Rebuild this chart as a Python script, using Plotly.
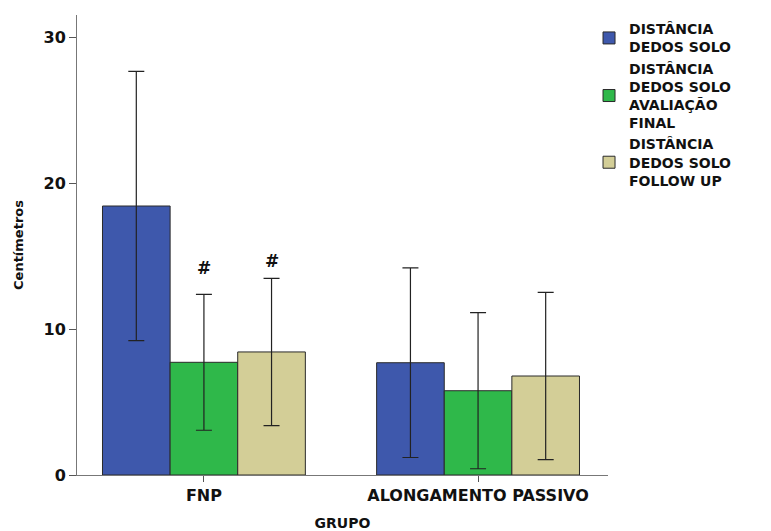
import plotly.graph_objects as go

categories = ["FNP", "ALONGAMENTO PASSIVO"]
series_names = [
    "DISTÂNCIA<br>DEDOS SOLO",
    "DISTÂNCIA<br>DEDOS SOLO<br>AVALIAÇÃO<br>FINAL",
    "DISTÂNCIA<br>DEDOS SOLO<br>FOLLOW UP",
]
means_inicial = [18.45, 7.70]
err_inicial = [9.23, 6.50]
means_final = [7.73, 5.78]
err_final = [4.66, 5.35]
means_follow = [8.44, 6.79]
err_follow = [5.05, 5.74]
colors = ["#3e58ac", "#2fb84a", "#d3ce97"]

# significance markers: (category index, series index, y)
sig_marks = [(0, 1, 14.2), (0, 2, 14.7)]

bargap = 0.26
font_family = "DejaVu Sans"

fig = go.Figure()
for name, m, e, c in zip(series_names,
                         [means_inicial, means_final, means_follow],
                         [err_inicial, err_final, err_follow], colors):
    fig.add_trace(go.Bar(
        x=categories, y=m, name=name,
        marker=dict(color=c, line=dict(color="#2a2a2a", width=1)),
        error_y=dict(type="data", array=e, symmetric=True,
                     color="#222222", thickness=1.2, width=8),
    ))

bar_w = (1 - bargap) / 3
for ci, si, yv in sig_marks:
    xpos = ci + (si - 1) * bar_w
    fig.add_annotation(x=xpos, y=yv, xref="x", yref="y", text="#",
                       showarrow=False, yanchor="middle",
                       font=dict(family=font_family, size=17, color="#111",
                                 weight="bold"))

# page body has an 8px default margin, so the figure is sized to fit the window
fig.update_layout(
    width=763, height=523,
    margin=dict(l=69, r=163, t=7, b=56, autoexpand=False),
    paper_bgcolor="white", plot_bgcolor="white",
    barmode="group", bargap=bargap, bargroupgap=0,
    font=dict(family=font_family, color="#111"),
    legend=dict(xref="container", yref="container", x=0.7615, y=0.99,
                xanchor="left", yanchor="top",
                font=dict(family=font_family, size=14, color="#111",
                          weight="bold"),
                itemwidth=30, tracegroupgap=0, bgcolor="rgba(0,0,0,0)"),
    showlegend=True,
)
fig.update_xaxes(
    range=[-0.463, 1.474], showline=True, linecolor="#777", linewidth=1,
    ticks="outside", ticklen=6, tickcolor="#555", automargin=False,
    tickfont=dict(family=font_family, size=16, color="#111", weight="bold"),
    title=dict(text="GRUPO", standoff=13,
               font=dict(family=font_family, size=14, color="#111",
                         weight="bold")),
    showgrid=False,
)
fig.update_yaxes(
    range=[0, 31.55], tickvals=[0, 10, 20, 30], showline=True,
    linecolor="#777", linewidth=1, ticks="outside", ticklen=7,
    tickcolor="#555", zeroline=False, showgrid=False, automargin=False,
    tickfont=dict(family=font_family, size=16, color="#111", weight="bold"),
    title=dict(text="Centímetros", standoff=16,
               font=dict(family=font_family, size=13, color="#111",
                         weight="bold")),
)

fig.write_html("out.html")
